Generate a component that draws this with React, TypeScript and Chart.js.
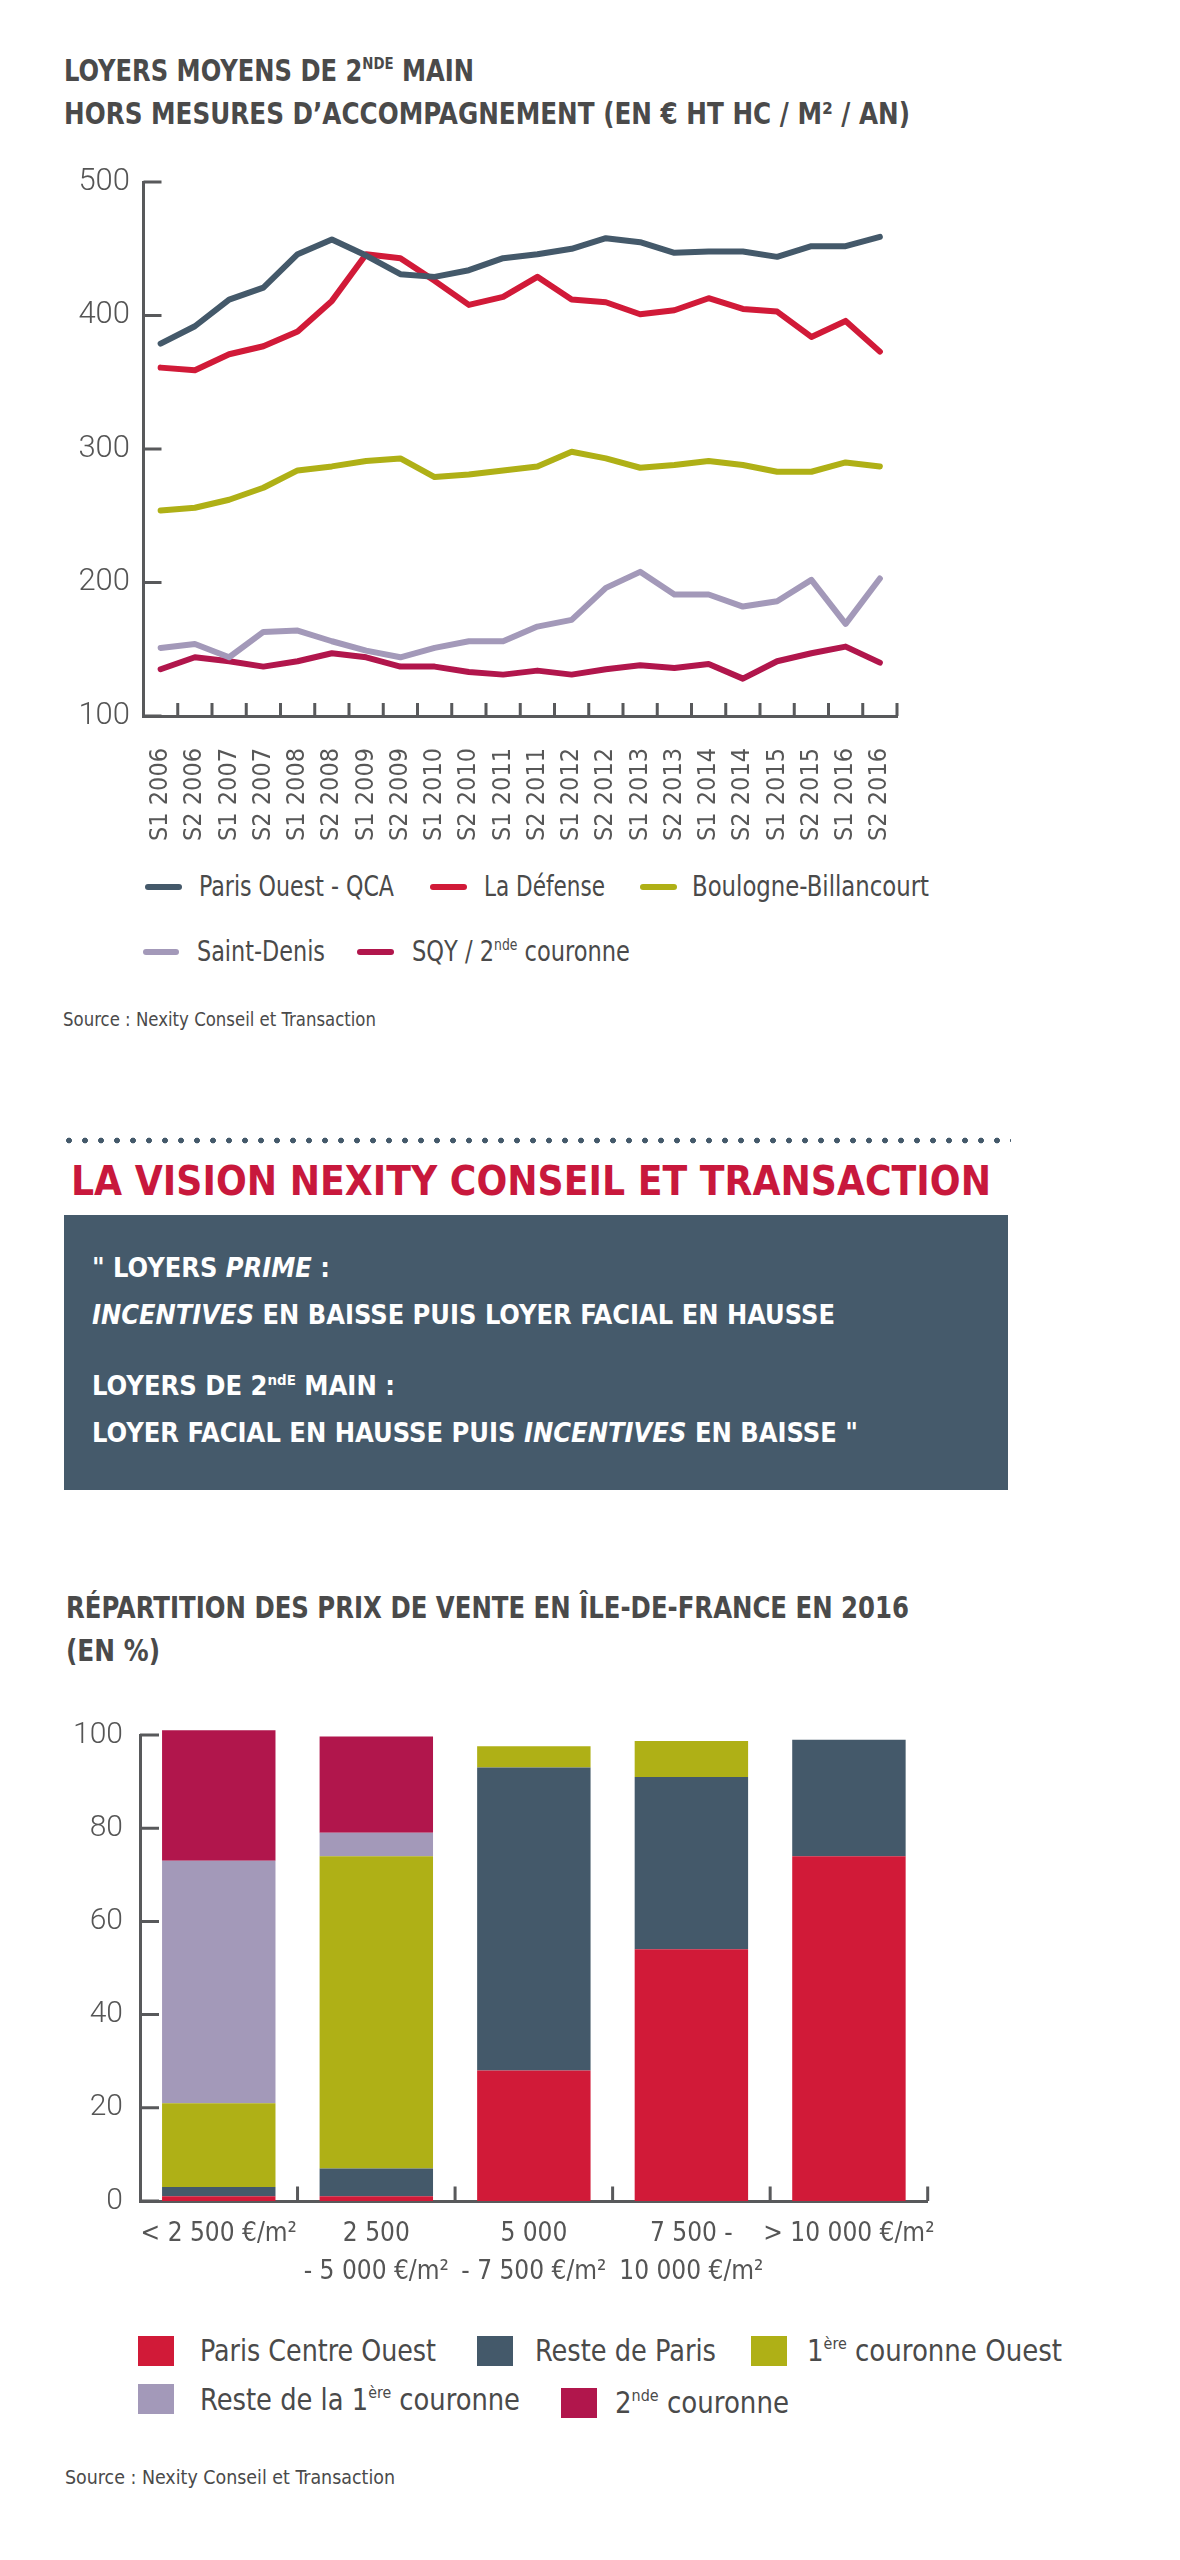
import React, { useEffect, useLayoutEffect, useRef } from "react";
import { Chart, registerables } from "chart.js";

Chart.register(...registerables);

// ---------- Chart 1 data : loyers moyens de 2nde main ----------
const periods = [
  "S1 2006", "S2 2006", "S1 2007", "S2 2007", "S1 2008", "S2 2008",
  "S1 2009", "S2 2009", "S1 2010", "S2 2010", "S1 2011", "S2 2011",
  "S1 2012", "S2 2012", "S1 2013", "S2 2013", "S1 2014", "S2 2014",
  "S1 2015", "S2 2015", "S1 2016", "S2 2016",
];
const parisOuestQCA = [379, 392, 412, 421, 446, 457, 445, 431, 429, 434, 443, 446, 450, 458, 455, 447, 448, 448, 444, 452, 452, 459];
const laDefense = [361, 359, 371, 377, 388, 411, 446, 443, 426, 408, 414, 429, 412, 410, 401, 404, 413, 405, 403, 384, 396, 373];
const boulogneBillancourt = [254, 256, 262, 271, 284, 287, 291, 293, 279, 281, 284, 287, 298, 293, 286, 288, 291, 288, 283, 283, 290, 287];
const saintDenis = [151, 154, 144, 163, 164, 156, 149, 144, 151, 156, 156, 167, 172, 196, 208, 191, 191, 182, 186, 202, 169, 203];
const sqy2ndeCouronne = [135, 144, 141, 137, 141, 147, 144, 137, 137, 133, 131, 134, 131, 135, 138, 136, 139, 128, 141, 147, 152, 140];
const rentTicks = [100, 200, 300, 400, 500];

// ---------- Chart 2 data : répartition des prix de vente ----------
const priceBands = [
  ["< 2 500 €/m²"],
  ["2 500", "- 5 000 €/m²"],
  ["5 000", "- 7 500 €/m²"],
  ["7 500 -", "10 000 €/m²"],
  ["> 10 000 €/m²"],
];
const parisCentreOuest = [1, 1, 28, 54, 74];
const restedeParis = [2, 6, 65, 37, 25];
const premiereCouronneOuest = [18, 67, 4.6, 7.7, 0];
const resteDeLa1ereCouronne = [52, 5, 0, 0, 0];
const secondeCouronne = [28, 20.7, 0, 0, 0];
const shareTicks = [0, 20, 40, 60, 80, 100];

// ---------- styles ----------
const C_DARK = "#44596a";
const C_RED = "#d11a38";
const C_OLIVE = "#afb016";
const C_LILAC = "#a399b9";
const C_CRIMSON = "#b1164c";
const AXIS = "#58595b";
const TEXT = "#4a4a4a";
const NARROW = '"Liberation Sans Narrow", "DejaVu Sans Condensed", "Arial Narrow", sans-serif';
const LIGHT = 'Roboto, "Open Sans", sans-serif';

const lineSeries = [
  { name: "Paris Ouest - QCA", data: parisOuestQCA, color: C_DARK },
  { name: "La Défense", data: laDefense, color: C_RED },
  { name: "Boulogne-Billancourt", data: boulogneBillancourt, color: C_OLIVE },
  { name: "Saint-Denis", data: saintDenis, color: C_LILAC },
  { name: "SQY / 2nde couronne", data: sqy2ndeCouronne, color: C_CRIMSON },
];

const barSeries = [
  { name: "Paris Centre Ouest", data: parisCentreOuest, color: C_RED },
  { name: "Reste de Paris", data: restedeParis, color: C_DARK },
  { name: "1ère couronne Ouest", data: premiereCouronneOuest, color: C_OLIVE },
  { name: "Reste de la 1ère couronne", data: resteDeLa1ereCouronne, color: C_LILAC },
  { name: "2nde couronne", data: secondeCouronne, color: C_CRIMSON },
];

// inner tick marks drawn from the scales
const innerTicks = {
  id: "innerTicks",
  afterDraw(chart: any, _args: any, opts: any) {
    const { ctx, chartArea, scales } = chart;
    const xs = scales.x;
    const ys = scales.y;
    ctx.save();
    ctx.strokeStyle = opts.color;
    ctx.lineWidth = opts.width;
    ctx.lineCap = "butt";
    ctx.beginPath();
    (opts.yValues as number[]).forEach((v) => {
      const py = ys.getPixelForValue(v);
      ctx.moveTo(chartArea.left, py);
      ctx.lineTo(chartArea.left + opts.yLen, py);
    });
    const n = xs.getLabels().length;
    for (let i = 1; i <= n; i++) {
      const px = xs.getPixelForValue(i - 0.5);
      ctx.moveTo(px, chartArea.bottom);
      ctx.lineTo(px, chartArea.bottom - opts.xLen);
    }
    ctx.stroke();
    ctx.restore();
  },
};

function Sup({ children }: { children: any }) {
  return (
    <span style={{ fontSize: "0.55em", position: "relative", top: "-0.72em", lineHeight: 0 }}>{children}</span>
  );
}

// text block; w = width it should occupy (the text is squeezed horizontally to it)
function Txt(props: {
  x: number; y: number; size: number; w?: number; weight?: number; color?: string; family?: string; children: any;
}) {
  const { x, y, size, w, weight = 400, color = TEXT, family = NARROW, children } = props;
  const ref = useRef<HTMLDivElement>(null);
  useLayoutEffect(() => {
    const el = ref.current;
    if (!el || !w) return;
    el.style.transform = "none";
    const actual = el.getBoundingClientRect().width;
    if (actual > 0) el.style.transform = `scaleX(${w / actual})`;
  }, [w]);
  return (
    <div
      ref={ref}
      style={{
        position: "absolute", left: x, top: y - size * 0.5, fontFamily: family, fontSize: size,
        lineHeight: `${size}px`, fontWeight: weight, color, whiteSpace: "nowrap", transformOrigin: "left center",
      }}
    >
      {children}
    </div>
  );
}

function LineChart() {
  const ref = useRef<HTMLCanvasElement>(null);
  useEffect(() => {
    const chart = new Chart(ref.current as HTMLCanvasElement, {
      type: "line",
      data: {
        labels: periods,
        datasets: lineSeries.map((s) => ({
          label: s.name, data: s.data, borderColor: s.color, backgroundColor: s.color,
          borderWidth: 6, pointRadius: 0, tension: 0, fill: false,
          borderCapStyle: "round", borderJoinStyle: "round",
        })),
      },
      options: {
        animation: false, responsive: false, maintainAspectRatio: false,
        layout: { padding: { top: 30, right: 63, left: 0, bottom: 0 } },
        plugins: {
          legend: { display: false }, tooltip: { enabled: false },
          innerTicks: { color: AXIS, width: 3, yLen: 18, xLen: 13, yValues: rentTicks },
        } as any,
        scales: {
          x: {
            type: "category", offset: true,
            grid: { display: false, drawTicks: false },
            border: { display: true, color: AXIS, width: 3 },
            ticks: {
              autoSkip: false, minRotation: 90, maxRotation: 90, padding: 32, color: "#575757",
              font: { family: NARROW, size: 25 },
            },
            afterFit: (s: any) => { s.height = 154; },
          },
          y: {
            min: 100, max: 500,
            grid: { display: false, drawTicks: false },
            border: { display: true, color: AXIS, width: 3 },
            ticks: { stepSize: 100, padding: 13.5, color: "#555", font: { family: LIGHT, size: 31, weight: "300" } },
            afterFit: (s: any) => { s.width = 143.5; },
          },
        },
      } as any,
      plugins: [innerTicks],
    });
    return () => chart.destroy();
  }, []);
  return (
    <canvas ref={ref} width={960} height={720}
      style={{ position: "absolute", left: 0, top: 150, width: 960, height: 720 }} />
  );
}

function BarChart() {
  const ref = useRef<HTMLCanvasElement>(null);
  useEffect(() => {
    const chart = new Chart(ref.current as HTMLCanvasElement, {
      type: "bar",
      data: {
        labels: priceBands,
        datasets: barSeries.map((s) => ({
          label: s.name, data: s.data, backgroundColor: s.color, borderWidth: 0,
          categoryPercentage: 0.9, barPercentage: 0.8, clip: false,
        })),
      },
      options: {
        animation: false, responsive: false, maintainAspectRatio: false,
        layout: { padding: { top: 33.7, right: 32.3, left: 0, bottom: 0 } },
        plugins: {
          legend: { display: false }, tooltip: { enabled: false },
          innerTicks: { color: AXIS, width: 3, yLen: 19, xLen: 14.5, yValues: shareTicks },
        } as any,
        scales: {
          x: {
            stacked: true, offset: true,
            grid: { display: false, drawTicks: false },
            border: { display: true, color: AXIS, width: 3 },
            ticks: {
              autoSkip: false, maxRotation: 0, minRotation: 0, padding: 14, color: "#555",
              font: { family: NARROW, size: 26, lineHeight: 38 / 26 },
            },
            afterFit: (s: any) => { s.height = 99; },
          },
          y: {
            stacked: true, min: 0, max: 100,
            grid: { display: false, drawTicks: false },
            border: { display: true, color: AXIS, width: 3 },
            ticks: { stepSize: 20, padding: 17, color: "#555", font: { family: LIGHT, size: 30, weight: "300" } },
            afterFit: (s: any) => { s.width = 140; },
          },
        },
      } as any,
      plugins: [innerTicks],
    });
    return () => chart.destroy();
  }, []);
  return (
    <canvas ref={ref} width={960} height={600}
      style={{ position: "absolute", left: 0, top: 1700, width: 960, height: 600 }} />
  );
}

function Dash({ x1, x2, y, color }: { x1: number; x2: number; y: number; color: string }) {
  return (
    <div style={{ position: "absolute", left: x1, top: y - 3, width: x2 - x1, height: 6, borderRadius: 3, background: color }} />
  );
}

function Swatch({ x1, x2, y1, y2, color }: { x1: number; x2: number; y1: number; y2: number; color: string }) {
  return <div style={{ position: "absolute", left: x1, top: y1, width: x2 - x1, height: y2 - y1, background: color }} />;
}

export default function App() {
  return (
    <div style={{ position: "absolute", left: 0, top: 0, width: 1180, height: 2560, background: "#fff", overflow: "hidden" }}>
      {/* Title chart 1 */}
      <Txt x={64} y={71} size={30} w={410} weight={700}>LOYERS MOYENS DE 2<Sup>NDE</Sup> MAIN</Txt>
      <Txt x={64} y={114} size={30} w={846} weight={700}>HORS MESURES D’ACCOMPAGNEMENT (EN € HT HC / M² / AN)</Txt>

      <LineChart />

      {/* legend chart 1 */}
      <Dash x1={145} x2={182} y={887} color={C_DARK} />
      <Txt x={199} y={887} size={28} w={195}>Paris Ouest - QCA</Txt>
      <Dash x1={430} x2={467} y={887} color={C_RED} />
      <Txt x={484} y={887} size={28} w={121}>La Défense</Txt>
      <Dash x1={640} x2={677} y={887} color={C_OLIVE} />
      <Txt x={692} y={887} size={28} w={237}>Boulogne-Billancourt</Txt>
      <Dash x1={143} x2={179} y={952} color={C_LILAC} />
      <Txt x={197} y={952} size={28} w={128}>Saint-Denis</Txt>
      <Dash x1={357} x2={394} y={952} color={C_CRIMSON} />
      <Txt x={412} y={952} size={28} w={218}>SQY / 2<Sup>nde</Sup> couronne</Txt>

      <Txt x={63} y={1019} size={19} w={313}>Source : Nexity Conseil et Transaction</Txt>

      {/* dotted separator */}
      <div style={{
        position: "absolute", left: 61, top: 1137, width: 950, height: 7,
        backgroundImage: `radial-gradient(circle, ${C_DARK} 2.6px, rgba(255,255,255,0) 3.2px)`,
        backgroundSize: "16px 7px", backgroundRepeat: "repeat-x",
      }} />

      <Txt x={71} y={1181} size={41} w={920} weight={700} color="#c8183c">LA VISION NEXITY CONSEIL ET TRANSACTION</Txt>

      <div style={{ position: "absolute", left: 64, top: 1215, width: 944, height: 275, background: "#455a6b" }} />
      <Txt x={92} y={1268} size={26} w={238} weight={700} color="#fff">" LOYERS <i>PRIME</i> :</Txt>
      <Txt x={92} y={1315} size={26} w={743} weight={700} color="#fff"><i>INCENTIVES</i> EN BAISSE PUIS LOYER FACIAL EN HAUSSE</Txt>
      <Txt x={92} y={1386} size={26} w={303} weight={700} color="#fff">LOYERS DE 2<Sup>ndE</Sup> MAIN :</Txt>
      <Txt x={92} y={1433} size={26} w={766} weight={700} color="#fff">LOYER FACIAL EN HAUSSE PUIS <i>INCENTIVES</i> EN BAISSE "</Txt>

      {/* Title chart 2 */}
      <Txt x={66} y={1608} size={30} w={843} weight={700}>RÉPARTITION DES PRIX DE VENTE EN ÎLE-DE-FRANCE EN 2016</Txt>
      <Txt x={66} y={1651} size={30} w={94} weight={700}>(EN %)</Txt>

      <BarChart />

      {/* legend chart 2 */}
      <Swatch x1={138} x2={174} y1={2336} y2={2366} color={C_RED} />
      <Txt x={200} y={2351} size={30} w={236}>Paris Centre Ouest</Txt>
      <Swatch x1={477} x2={513} y1={2336} y2={2366} color={C_DARK} />
      <Txt x={535} y={2351} size={30} w={181}>Reste de Paris</Txt>
      <Swatch x1={751} x2={787} y1={2336} y2={2366} color={C_OLIVE} />
      <Txt x={807} y={2351} size={30} w={255}>1<Sup>ère</Sup> couronne Ouest</Txt>
      <Swatch x1={138} x2={174} y1={2384} y2={2414} color={C_LILAC} />
      <Txt x={200} y={2400} size={30} w={320}>Reste de la 1<Sup>ère</Sup> couronne</Txt>
      <Swatch x1={561} x2={597} y1={2388} y2={2418} color={C_CRIMSON} />
      <Txt x={615} y={2403} size={30} w={174}>2<Sup>nde</Sup> couronne</Txt>

      <Txt x={65} y={2477} size={20} w={330}>Source : Nexity Conseil et Transaction</Txt>
    </div>
  );
}
